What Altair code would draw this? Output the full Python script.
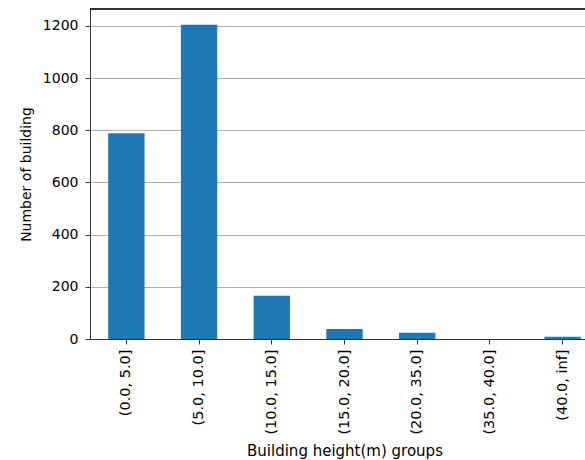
import altair as alt
import pandas as pd

# Building counts per height bin
groups = ["(0.0, 5.0]", "(5.0, 10.0]", "(10.0, 15.0]", "(15.0, 20.0]",
          "(20.0, 35.0]", "(35.0, 40.0]", "(40.0, inf]"]
counts = [789, 1205, 166, 38, 24, 0, 9]
y_ticks = [0, 200, 400, 600, 800, 1000, 1200]

df = pd.DataFrame({"group": groups, "count": counts})

FONT = "DejaVu Sans"
SPINE = "#333333"

x_enc = alt.X(
    "group:N",
    sort=groups,
    scale=alt.Scale(domain=groups, range=[0, 509], paddingInner=0.5, paddingOuter=0.25),
    axis=alt.Axis(
        title="Building height(m) groups",
        titleFontSize=15,
        labelFontSize=14.5,
        labelAngle=270,
        labelAlign="right",
        labelBaseline="middle",
        labelPadding=5,
        tickSize=5,
        titlePadding=9,
        grid=False,
    ),
)

y_enc = alt.Y(
    "count:Q",
    scale=alt.Scale(domain=[0, 1265], nice=False),
    axis=alt.Axis(
        title="Number of building",
        values=y_ticks,
        format="d",
        tickSize=5,
        labelPadding=7,
        titlePadding=9,
        grid=True,
        gridColor="#b0b0b0",
        gridWidth=1,
    ),
)

bars = alt.Chart(df).mark_bar(color="#1f77b4").encode(x=x_enc, y=y_enc)

top_spine = alt.Chart(df).mark_rule(color=SPINE, strokeWidth=1).encode(
    x=alt.value(0), x2=alt.value(509), y=alt.value(0)
)

chart = (
    alt.layer(bars, top_spine)
    .properties(
        width=495,
        height=330,
        autosize=alt.AutoSizeParams(type="none"),
        padding={"left": 90, "top": 9, "right": 0, "bottom": 121},
    )
    .configure_view(stroke=None)
    .configure_axis(
        labelFont=FONT,
        titleFont=FONT,
        labelFontSize=14,
        titleFontSize=14,
        titleFontWeight="normal",
        labelColor="#000000",
        titleColor="#000000",
        domainColor=SPINE,
        tickColor=SPINE,
        domainWidth=1,
        tickWidth=1,
    )
)

chart.save("out.html", embed_options={"renderer": "svg", "actions": False})
